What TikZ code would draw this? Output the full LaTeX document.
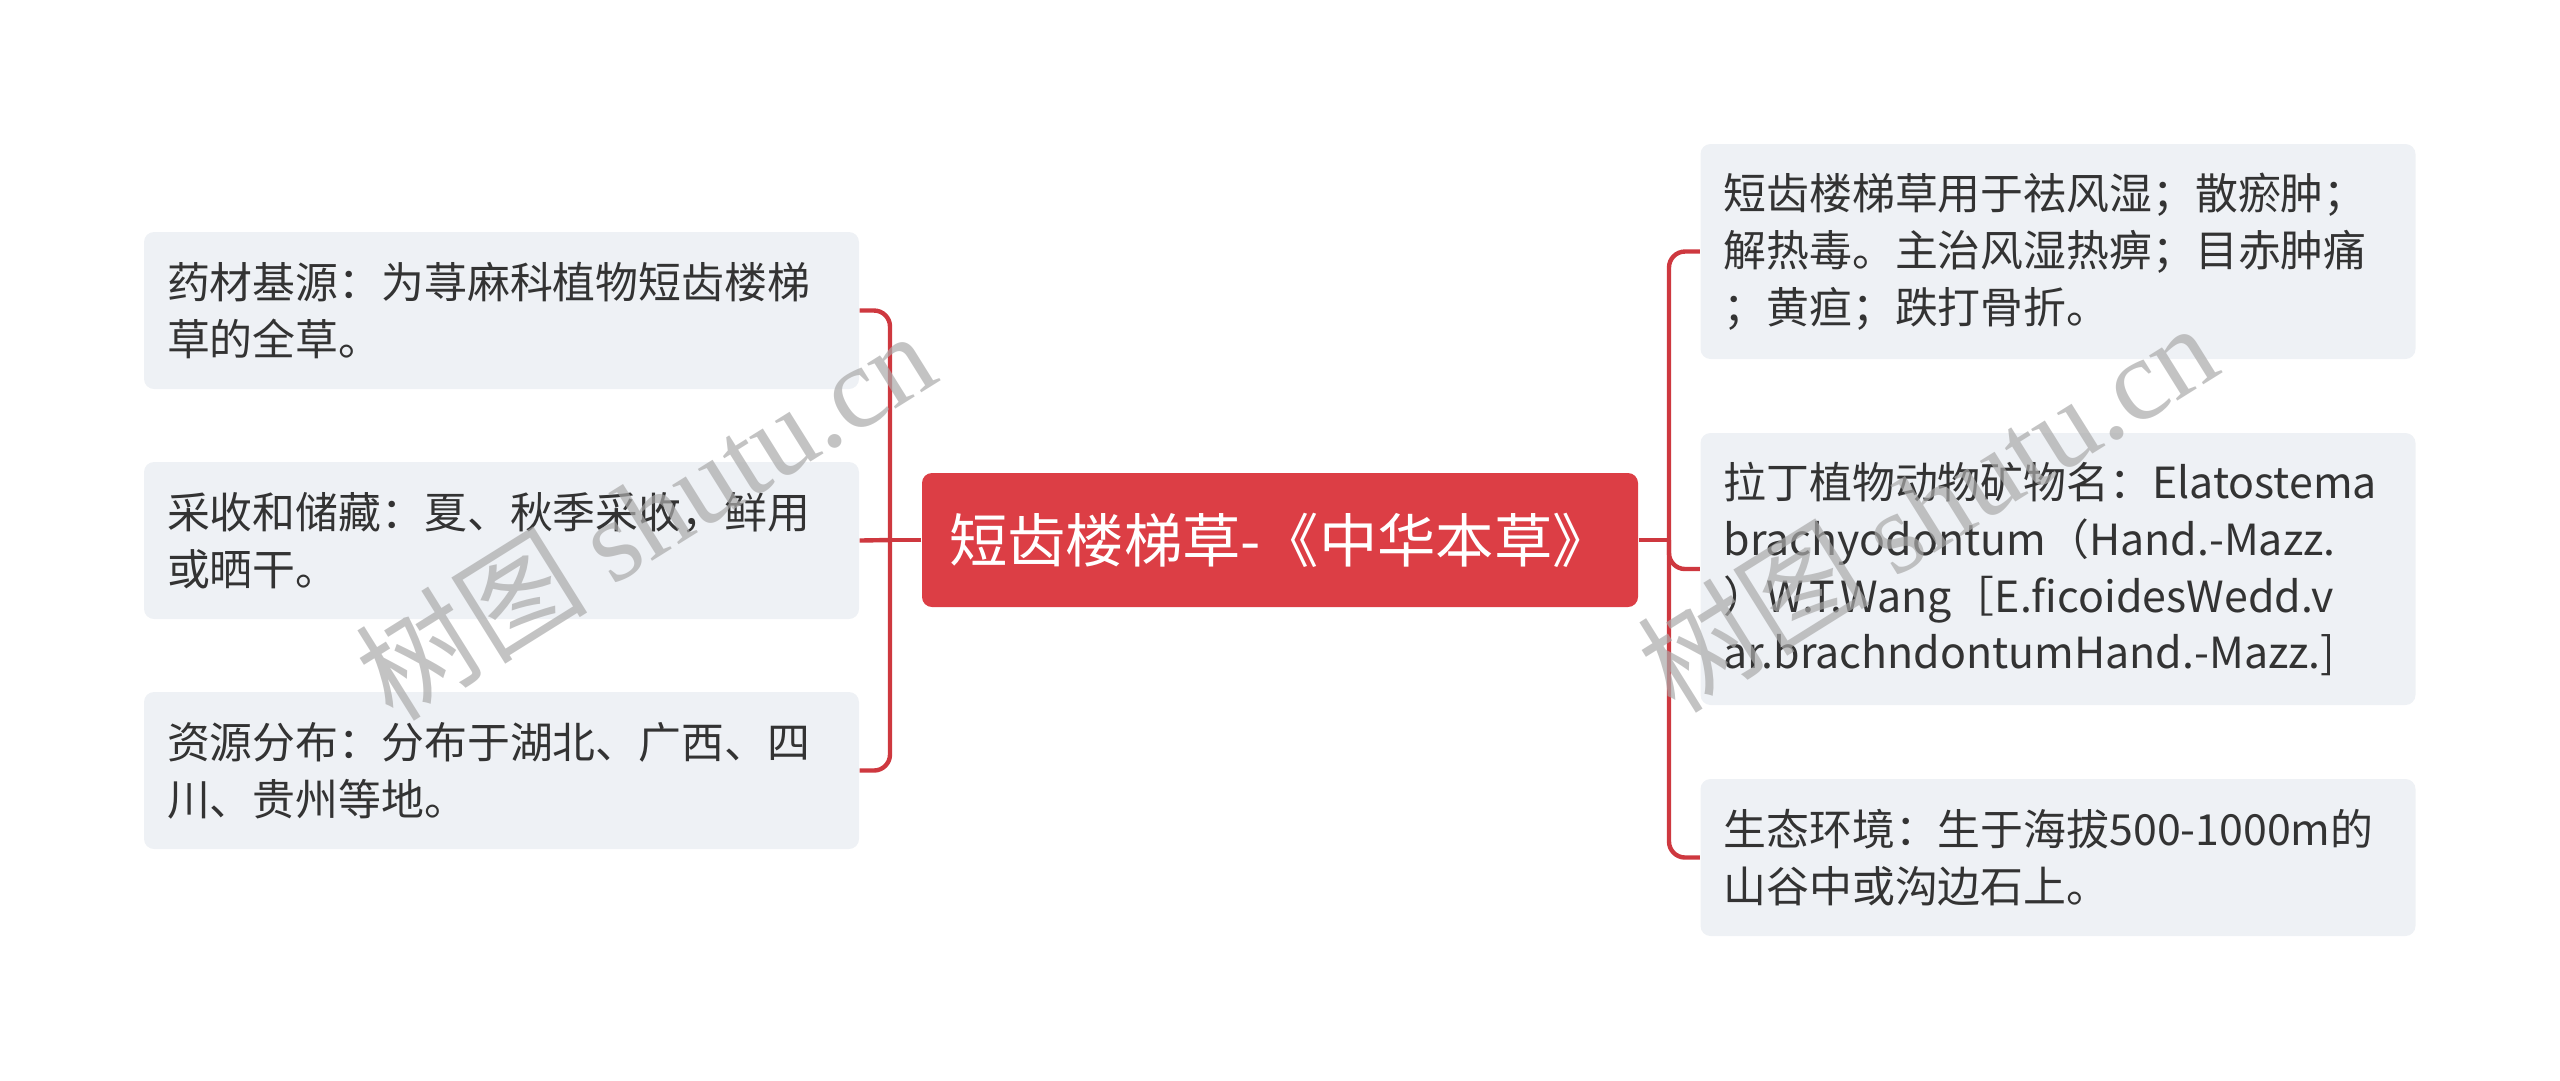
\documentclass[tikz,border=0pt]{standalone}
\usepackage{fontspec}
\setmainfont{Noto Sans CJK SC}
\newfontfamily\wmlatin{Liberation Serif}
\usepackage{xcolor}
\usepackage{tikz}
\usetikzlibrary{positioning}
\usetikzlibrary{calc}

\definecolor{rootred}{RGB}{220,62,69}
\definecolor{linkred}{RGB}{206,56,63}
\definecolor{leafgray}{RGB}{238,241,245}
\definecolor{leaftext}{RGB}{51,51,51}
\definecolor{markgray}{RGB}{170,170,170}

\tikzset{
	leaf/.style={fill=leafgray,rounded corners=1mm,text=leaftext,align=left,text width=66.9mm,inner xsep=2.3mm,inner ysep=0pt,font=\fontsize{12.2pt}{16.2pt}\selectfont},
	root/.style={fill=rootred,rounded corners=1mm,text=white,minimum width=71.6mm,minimum height=13.4mm,inner sep=0pt,font=\fontsize{16.6pt}{20pt}\selectfont},
	link/.style={draw=linkred,line width=1.25pt,rounded corners=1.6mm},
	wmark/.style={text=markgray,text opacity=0.7,font=\fontsize{33pt}{36pt}\selectfont}
}

\begin{document}
\begin{tikzpicture}[x=0.1mm,y=-0.1mm]
	\useasboundingbox (0,0) rectangle (2560,1080);
	\node[root] (root) at (1280,540) {短齿楼梯草-《中华本草》};
	% left side
	\node[leaf,minimum height=15.7mm] (source) at (501.5,310.5) {药材基源：为荨麻科植物短齿楼梯\\草的全草。};
	\node[leaf,minimum height=15.7mm] (harvest) at (501.5,540.5) {采收和储藏：夏、秋季采收，鲜用\\或晒干。};
	\node[leaf,minimum height=15.7mm] (range) at (501.5,770.5) {资源分布：分布于湖北、广西、四\\川、贵州等地。};
	% right side
	\node[leaf,minimum height=21.5mm] (usage) at (2058,251.5) {短齿楼梯草用于祛风湿；散瘀肿；\\解热毒。主治风湿热痹；目赤肿痛\\；黄疸；跌打骨折。};
	\node[leaf,minimum height=27.2mm] (latin) at (2058,569) {拉丁植物动物矿物名：Elatostema\\brachyodontum（Hand.-Mazz.\\）W.T.Wang［E.ficoidesWedd.v\\ar.brachndontumHand.-Mazz.]};
	\node[leaf,minimum height=15.7mm] (habitat) at (2058,857.5) {生态环境：生于海拔500-1000m的\\山谷中或沟边石上。};
	% connectors
	\coordinate (lj) at (890,540);
	\coordinate (rj) at (1669,540);
	\draw[link] (root.west) -- (lj);
	\draw[link] (lj) |- (source.east);
	\draw[link] (lj) -- (harvest.east);
	\draw[link] (lj) |- (range.east);
	\draw[link] (root.east) -- (rj);
	\draw[link] (rj) |- (usage.west);
	\draw[link] (rj) |- (latin.west);
	\draw[link] (rj) |- (habitat.west);
	% watermarks
	\node[wmark,rotate=32] (wmleft) at (645,514) {树图 {\wmlatin shutu.cn}};
	\node[wmark,rotate=32] (wmright) at (1927,506) {树图 {\wmlatin shutu.cn}};
\end{tikzpicture}
\end{document}
